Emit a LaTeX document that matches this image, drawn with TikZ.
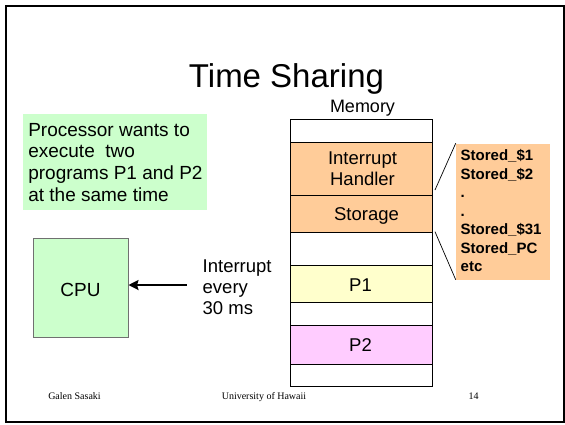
\documentclass[tikz,border=0pt]{standalone}
\usepackage{fontspec}
\setmainfont{Liberation Sans}
\newfontfamily\footfont{Liberation Serif}
\usetikzlibrary{arrows.meta}
\definecolor{peach}{HTML}{FFCC99}
\definecolor{lgreen}{HTML}{CCFFCC}
\definecolor{lyellow}{HTML}{FFFFCC}
\definecolor{lpink}{HTML}{FFCCFF}
\definecolor{cpuedge}{HTML}{707070}
\begin{document}
\begin{tikzpicture}[x=1pt,y=-1pt,
  memrow/.style={draw=black, line width=0.8pt, minimum width=141.3pt, inner sep=0pt, outer sep=0pt, anchor=north west},
  lbl/.style={inner sep=0pt, outer sep=0pt, anchor=base},
  lbll/.style={inner sep=0pt, outer sep=0pt, anchor=base west, align=left},
  txt/.style={font=\fontsize{18.5}{21.7}\selectfont},
  foot/.style={inner sep=0pt, anchor=base, font=\footfont\fontsize{10}{12}\selectfont},
  thin/.style={draw=black, line width=0.7pt}]
\useasboundingbox (0,0) rectangle (565,424);
% slide frame
\node[draw=black, line width=2.5pt, inner sep=0pt, minimum width=558pt, minimum height=416pt, anchor=north west] (frame) at (4.5,4.5) {};
% title
\node[lbl, font=\fontsize{33}{38}\selectfont] (title) at (286.5,87) {Time Sharing};
\node[lbl, font=\fontsize{18}{21}\selectfont] (memlbl) at (362.5,112) {Memory};
% note box
\node[fill=lgreen, inner sep=0pt, minimum width=184pt, minimum height=95.3pt, anchor=north west] (note) at (22.7,114) {};
\node[lbll, font=\fontsize{19}{21.9}\selectfont] (notetxt) at (28.3,201.7) {Processor wants to\\execute~ two\\programs P1 and P2\\at the same time};
% CPU
\node[draw=cpuedge, fill=lgreen, line width=0.8pt, inner sep=0pt, minimum width=94.4pt, minimum height=99pt, anchor=north west] (cpu) at (33.3,238.3) {};
\node[lbl, font=\fontsize{19}{22}\selectfont] (cputxt) at (80.5,296.7) {CPU};
% interrupt
\coordinate (arr) at (186.7,285);
\draw[line width=2.5pt, -{Stealth[length=10pt,width=10pt,inset=1.5pt]}] (arr) -- (arr -| cpu.east);
\node[lbll, font=\fontsize{18.5}{21}\selectfont] (intr) at (202.7,314) {Interrupt\\every\\30 ms};
% memory rows
\node[memrow, minimum height=23.4pt] (r0) at (290.7,119.3) {};
\node[memrow, fill=peach, minimum height=52.3pt] (r1) at (290.7,142.7) {};
\node[memrow, fill=peach, minimum height=37.3pt] (r2) at (290.7,195) {};
\node[memrow, minimum height=32.7pt] (r3) at (290.7,232.3) {};
\node[memrow, fill=lyellow, minimum height=37.3pt] (r4) at (290.7,265) {};
\node[memrow, minimum height=23.4pt] (r5) at (290.7,302.3) {};
\node[memrow, fill=lpink, minimum height=38.3pt] (r6) at (290.7,325.7) {};
\node[memrow, minimum height=22.7pt] (r7) at (290.7,364) {};
\node[lbl, txt, align=center] (ih) at (362.5,185.7) {Interrupt\\Handler};
\node[lbl, txt] (st) at (366.5,220) {Storage};
\node[lbl, txt] (p1) at (360.5,291.7) {P1};
\node[lbl, txt] (p2) at (360.5,351.7) {P2};
% stored registers box
\node[fill=peach, inner sep=0pt, minimum width=94.3pt, minimum height=136pt, anchor=north west] (regs) at (455.7,143.3) {};
\node[lbll, font=\bfseries\fontsize{15}{18.5}\selectfont] (regtxt) at (460.7,271.7) {Stored\_\$1\\Stored\_\$2\\.\\.\\Stored\_\$31\\Stored\_PC\\etc};
\coordinate (c1) at (435,190);
\coordinate (c2) at (435,231.7);
\draw[thin] (regs.north west) -- (c1);
\draw[thin] (c2) -- (regs.south west);
% footer
\node[foot] (f1) at (74.5,399.5) {Galen Sasaki};
\node[foot] (f2) at (264,399.5) {University of Hawaii};
\node[foot] (f3) at (473.5,399.5) {14};
\end{tikzpicture}
\end{document}
